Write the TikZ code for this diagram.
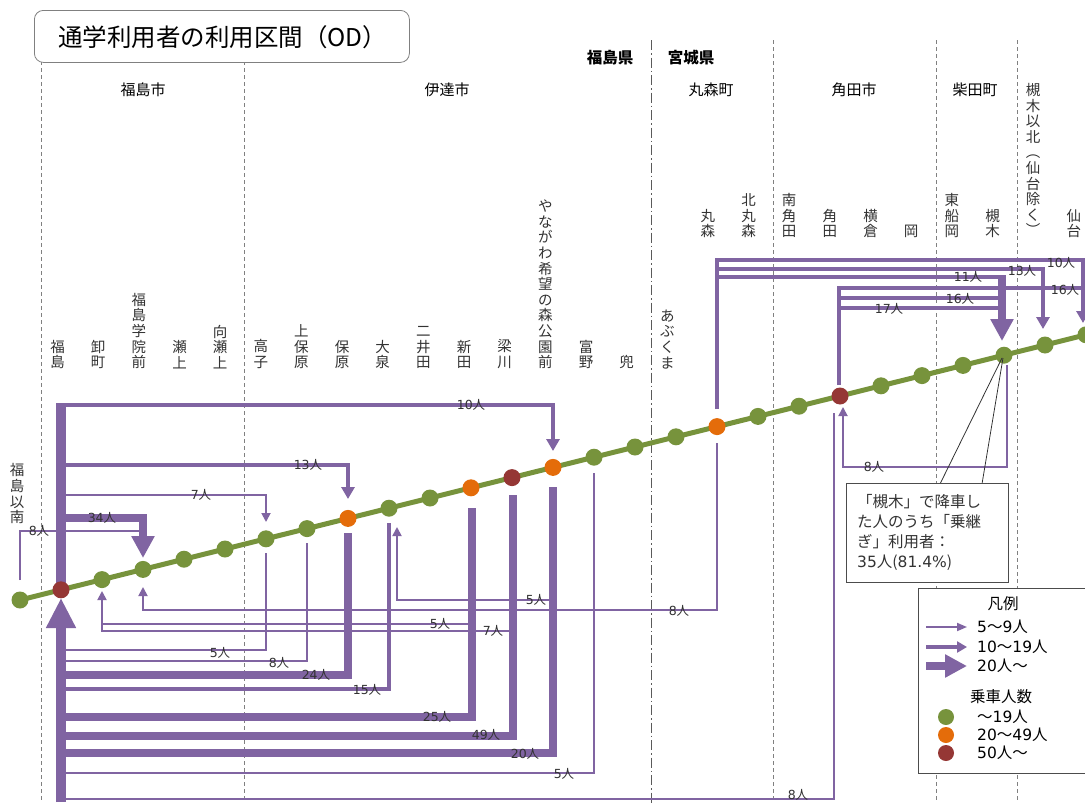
\documentclass[tikz,border=0pt]{standalone}
\usepackage{fontspec}
\setmainfont{Noto Sans CJK JP}
\newfontfamily\vd{DejaVu Sans}
\usetikzlibrary{arrows.meta,calc}
\definecolor{pu}{HTML}{8064A2}
\definecolor{gr}{HTML}{77933C}
\definecolor{orj}{HTML}{E46C0A}
\definecolor{rd}{HTML}{953735}
\definecolor{txt}{HTML}{333333}
\definecolor{bnd}{HTML}{808080}
\begin{document}
\begin{tikzpicture}[x=1pt,y=-1pt,line join=miter,
  thinf/.style={draw=pu,line width=1.8pt},
  medf/.style={draw=pu,line width=4.2pt},
  thkf/.style={draw=pu,line width=7.5pt},
  tipS/.style={-{Triangle[length=9pt,width=9pt]}},
  tipM/.style={-{Triangle[length=12pt,width=13pt]}},
  tipL/.style={-{Triangle[length=22pt,width=22pt]}},
  flab/.style={font=\fontsize{12.5}{13}\selectfont, text=txt, inner sep=0pt},
  vl/.style={font=\fontsize{14.5}{15.6}\selectfont, align=center, inner sep=0pt, anchor=south, text=txt},
  city/.style={font=\fontsize{15}{16}\selectfont, text=black, inner sep=0pt},
  pref/.style={font=\bfseries\fontsize{15.5}{16}\selectfont, text=black, inner sep=0pt},
  stdot/.style={circle, fill=#1, minimum size=17pt, inner sep=0pt},
  bline/.style={draw=bnd, line width=0.8pt, dash pattern=on 4pt off 3pt},
  pline/.style={draw=bnd!70!black, line width=1pt, dash pattern=on 10pt off 3pt on 1.5pt off 3pt},
  lt/.style={font=\fontsize{15.5}{16}\selectfont, text=black, inner sep=0pt}
]
\clip (0,0) rectangle (1085,803);
\fill[white] (0,0) rectangle (1085,803);

% boundaries
\draw[bline] (41,40) -- (41,803);
\draw[bline] (244,40) -- (244,803);
\draw[pline] (651,40) -- (651,803);
\draw[bline] (773,40) -- (773,803);
\draw[bline] (936,40) -- (936,803);
\draw[bline] (1017,40) -- (1017,803);

% title
\node[draw=bnd, rounded corners=9pt, fill=white, minimum width=375pt, minimum height=52pt, anchor=north west, line width=0.8pt, inner sep=0pt] (title) at (34,10) {};
\node[font=\fontsize{24.5}{26}\selectfont, anchor=west, inner sep=0pt, text=black] (titletext) at (58,37) {通学利用者の利用区間（OD）};

% region labels
\node[city] (c1) at (143,90) {福島市};
\node[city] (c2) at (447,90) {伊達市};
\node[city] (c3) at (711,90) {丸森町};
\node[city] (c4) at (854,90) {角田市};
\node[city] (c5) at (975,90) {柴田町};
\node[pref] (p1) at (610,58) {福島県};
\node[pref] (p2) at (691,58) {宮城県};

% stations
\foreach \i in {1,...,27} {
  \coordinate (s\i) at ({20+41*(\i-1)},{600-10.2*(\i-1)});
}

% ---- flows from Fukushima (upper side)
\draw[draw=pu, line width=9.5pt] (61,403) -- (61,583);
\draw[medf,tipM] (61,405) -- (553,405) -- (553,451);
\draw[medf,tipM] (61,465) -- (348,465) -- (348,499);
\draw[thinf,tipS] (61,495) -- (266,495) -- (266,522);
\draw[thkf,tipL] (61,518) -- (143,518) -- (143,558);
\draw[thinf] (20,580) -- (20,531) -- (140,531);

% ---- flows to Fukushima (lower side)
\draw[draw=pu,line width=10pt,-{Triangle[length=30pt,width=28pt]}] (61,802) -- (61,598);
\draw[thinf] (266,553) -- (266,650) -- (61,650);
\draw[thinf] (307,543) -- (307,661) -- (61,661);
\draw[thkf] (348,533) -- (348,675) -- (61,675);
\draw[medf] (389,523) -- (389,689) -- (61,689);
\draw[thkf] (472,508) -- (472,717) -- (61,717);
\draw[thkf] (513,495) -- (513,736) -- (61,736);
\draw[thkf] (553,487) -- (553,753) -- (61,753);
\draw[thinf] (594,473) -- (594,773) -- (61,773);
\draw[thinf] (834,413) -- (834,799) -- (61,799);

% ---- other lower flows with upward arrows
\draw[thinf,tipS] (717,443) -- (717,610) -- (143,610) -- (143,587);
\draw[thinf,tipS] (553,600) -- (397,600) -- (397,527);
\draw[thinf,tipS] (472,624) -- (102,624) -- (102,591);
\draw[thinf] (513,631) -- (102,631) -- (102,624);
\draw[thinf,tipS] (1007,365) -- (1007,467) -- (843,467) -- (843,407);

% ---- upper flows from Marumori and Kakuda
\draw[medf,tipM] (717,409) -- (717,260) -- (1083,260) -- (1083,323);
\draw[medf,tipM] (717,269) -- (1043,269) -- (1043,329);
\draw[medf] (717,277) -- (1002,277);
\draw[medf] (839,385) -- (839,288) -- (1083,288);
\draw[medf] (839,298) -- (1002,298);
\draw[medf] (839,308) -- (1002,308);
\draw[thkf,tipL] (1002,275) -- (1002,341);

% ---- flow labels
\node[flab] (f1) at (471,405) {{\vd 10}人};
\node[flab] (f2) at (308,465) {{\vd 13}人};
\node[flab] (f3) at (201,495) {{\vd 7}人};
\node[flab] (f4) at (102,518) {{\vd 34}人};
\node[flab] (f5) at (39,531) {{\vd 8}人};
\node[flab] (f6) at (220,653) {{\vd 5}人};
\node[flab] (f7) at (279,663) {{\vd 8}人};
\node[flab] (f8) at (316,675) {{\vd 24}人};
\node[flab] (f9) at (367,690) {{\vd 15}人};
\node[flab] (f10) at (437,717) {{\vd 25}人};
\node[flab] (f11) at (486,735) {{\vd 49}人};
\node[flab] (f12) at (525,754) {{\vd 20}人};
\node[flab] (f13) at (564,774) {{\vd 5}人};
\node[flab] (f14) at (798,795) {{\vd 8}人};
\node[flab] (f15) at (679,611) {{\vd 8}人};
\node[flab] (f16) at (536,600) {{\vd 5}人};
\node[flab] (f17) at (440,624) {{\vd 5}人};
\node[flab] (f18) at (493,631) {{\vd 7}人};
\node[flab] (f19) at (874,467) {{\vd 8}人};
\node[flab] (f20) at (968,277) {{\vd 11}人};
\node[flab] (f21) at (1022,271) {{\vd 13}人};
\node[flab] (f22) at (1061,263) {{\vd 10}人};
\node[flab] (f23) at (1065,290) {{\vd 16}人};
\node[flab] (f24) at (960,299) {{\vd 16}人};
\node[flab] (f25) at (889,309) {{\vd 17}人};

% ---- green line and stations
\draw[gr, line width=5pt] (s1) -- (s27);
\foreach \i/\c in {1/gr,2/rd,3/gr,4/gr,5/gr,6/gr,7/gr,8/gr,9/orj,10/gr,11/gr,12/orj,13/rd,14/orj,15/gr,16/gr,17/gr,18/orj,19/gr,20/gr,21/rd,22/gr,23/gr,24/gr,25/gr,26/gr,27/gr} {
  \node[stdot=\c] (d\i) at (s\i) {};
}

% ---- station labels
\node[vl] (l1) at (17,524) {福\\島\\以\\南};
\node[vl] (l2) at (57.5,369) {福\\島};
\node[vl] (l3) at (98.2,369) {卸\\町};
\node[vl] (l4) at (138.8,369) {福\\島\\学\\院\\前};
\node[vl] (l5) at (179.5,369) {瀬\\上};
\node[vl] (l6) at (220.1,369) {向\\瀬\\上};
\node[vl] (l7) at (260.8,369) {高\\子};
\node[vl] (l8) at (301.4,369) {上\\保\\原};
\node[vl] (l9) at (342.1,369) {保\\原};
\node[vl] (l10) at (382.7,369) {大\\泉};
\node[vl] (l11) at (423.4,369) {二\\井\\田};
\node[vl] (l12) at (464,369) {新\\田};
\node[vl] (l13) at (504.7,369) {梁\\川};
\node[vl] (l14) at (545.3,369) {や\\な\\が\\わ\\希\\望\\の\\森\\公\\園\\前};
\node[vl] (l15) at (586,369) {富\\野};
\node[vl] (l16) at (626.6,369) {兜};
\node[vl] (l17) at (667.3,369) {あ\\ぶ\\く\\ま};
\node[vl] (l18) at (707.9,238) {丸\\森};
\node[vl] (l19) at (748.6,238) {北\\丸\\森};
\node[vl] (l20) at (789.2,238) {南\\角\\田};
\node[vl] (l21) at (829.9,238) {角\\田};
\node[vl] (l22) at (870.5,238) {横\\倉};
\node[vl] (l23) at (911.2,238) {岡};
\node[vl] (l24) at (951.8,238) {東\\船\\岡};
\node[vl] (l25) at (992.5,238) {槻\\木};
\node[vl] (l26) at (1033.1,236) {槻\\木\\以\\北\\︵\\仙\\台\\除\\く\\︶};
\node[vl] (l27) at (1073.8,238) {仙\\台};

% ---- callout
\draw[black!80, line width=0.8pt] (940,484) -- (1002,358);
\draw[black!80, line width=0.8pt] (982,484) -- (1003,358);
\node[draw=black!70, fill=white, line width=0.8pt, anchor=north west, minimum width=162pt, minimum height=99pt, inner sep=0pt] (callbox) at (846,483) {};
\node[anchor=north west, align=left, font=\fontsize{15.5}{20}\selectfont, inner sep=0pt, text=txt] (calltext) at (857,494) {「槻木」で降車し\\た人のうち「乗継\\ぎ」利用者：\\{\vd 35}人({\vd 81.4\%})};

% ---- legend
\node[draw=black!70, fill=white, line width=0.8pt, anchor=north west, minimum width=190pt, minimum height=185pt, inner sep=0pt] (leg) at (918,588) {};
\node[lt] (lg0) at (1003,604) {凡例};
\coordinate (la1) at (926,627); \coordinate (lb1) at (967,627);
\coordinate (la2) at (926,647); \coordinate (lb2) at (967,647);
\coordinate (la3) at (926,666); \coordinate (lb3) at (967,666);
\draw[thinf,-{Triangle[length=10pt,width=8pt]}] (la1) -- (lb1);
\draw[medf,-{Triangle[length=10pt,width=11pt]}] (la2) -- (lb2);
\draw[thkf,tipL] (la3) -- (lb3);
\node[lt, anchor=west] (lg1) at (977,627) {{\vd 5}～{\vd 9}人};
\node[lt, anchor=west] (lg2) at (977,647) {{\vd 10}～{\vd 19}人};
\node[lt, anchor=west] (lg3) at (977,666) {{\vd 20}人～};
\node[lt] (lg4) at (1001,697) {乗車人数};
\node[stdot=gr, minimum size=16pt] (lgd1) at (946,717) {};
\node[stdot=orj, minimum size=16pt] (lgd2) at (946,735) {};
\node[stdot=rd, minimum size=16pt] (lgd3) at (946,753) {};
\node[lt, anchor=west] (lg5) at (977,717) {～{\vd 19}人};
\node[lt, anchor=west] (lg6) at (977,735) {{\vd 20}～{\vd 49}人};
\node[lt, anchor=west] (lg7) at (977,753) {{\vd 50}人～};
\end{tikzpicture}
\end{document}
